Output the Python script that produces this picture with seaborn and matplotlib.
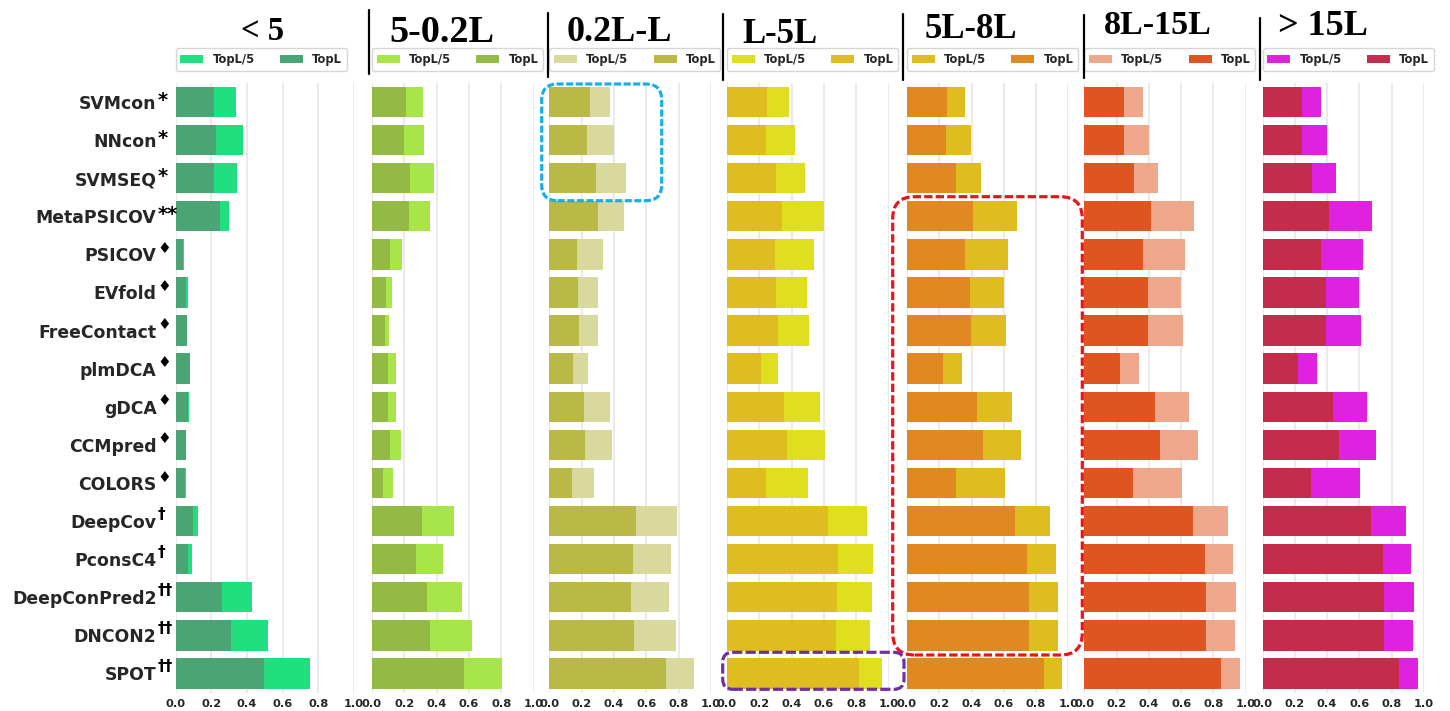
import numpy as np
import pandas as pd
import matplotlib
matplotlib.use("Agg")
import matplotlib.pyplot as plt
from matplotlib.patches import FancyBboxPatch
from matplotlib.lines import Line2D
import seaborn as sns

# ---------------------------------------------------------------- data
methods = ["SVMcon", "NNcon", "SVMSEQ", "MetaPSICOV", "PSICOV", "EVfold",
           "FreeContact", "plmDCA", "gDCA", "CCMpred", "COLORS", "DeepCov",
           "PconsC4", "DeepConPred2", "DNCON2", "SPOT"]
method_marks = ["*", "*", "*", "**", "♦", "♦", "♦", "♦", "♦", "♦", "♦",
                "†", "†", "††", "††", "††"]

ranges = ["< 5", "5-0.2L", "0.2L-L", "L-5L", "5L-8L", "8L-15L", "> 15L"]

topl5_lt5 = [0.338, 0.375, 0.343, 0.297, 0.044, 0.069, 0.062, 0.078, 0.076,
             0.058, 0.058, 0.123, 0.091, 0.426, 0.517, 0.754]
topl_lt5 = [0.216, 0.226, 0.213, 0.246, 0.043, 0.056, 0.062, 0.078, 0.071,
            0.058, 0.054, 0.099, 0.067, 0.259, 0.308, 0.496]

topl5_5_02L = [0.314, 0.322, 0.386, 0.359, 0.188, 0.124, 0.105, 0.147, 0.147,
               0.182, 0.128, 0.506, 0.440, 0.557, 0.617, 0.803]
topl_5_02L = [0.211, 0.200, 0.235, 0.227, 0.111, 0.085, 0.078, 0.101, 0.097,
              0.109, 0.070, 0.312, 0.275, 0.341, 0.359, 0.568]

topl5_02L_L = [0.375, 0.402, 0.476, 0.462, 0.330, 0.303, 0.303, 0.237, 0.375,
               0.386, 0.278, 0.790, 0.753, 0.740, 0.782, 0.895]
topl_02L_L = [0.252, 0.231, 0.289, 0.299, 0.173, 0.179, 0.184, 0.148, 0.215,
              0.221, 0.138, 0.534, 0.520, 0.505, 0.524, 0.724]

topl5_L_5L = [0.382, 0.419, 0.483, 0.601, 0.541, 0.495, 0.510, 0.318, 0.574,
              0.605, 0.500, 0.869, 0.904, 0.898, 0.885, 0.958]
topl_L_5L = [0.248, 0.241, 0.303, 0.341, 0.295, 0.305, 0.314, 0.209, 0.353,
             0.370, 0.243, 0.623, 0.687, 0.679, 0.675, 0.817]

topl5_5L_8L = [0.362, 0.399, 0.457, 0.681, 0.626, 0.600, 0.613, 0.339, 0.649,
               0.705, 0.605, 0.888, 0.922, 0.938, 0.934, 0.962]
topl_5L_8L = [0.245, 0.243, 0.306, 0.411, 0.362, 0.393, 0.395, 0.221, 0.435,
              0.472, 0.303, 0.671, 0.747, 0.754, 0.756, 0.847]

topl5_8L_15L = [0.362, 0.399, 0.457, 0.681, 0.626, 0.600, 0.613, 0.339, 0.649,
                0.705, 0.605, 0.888, 0.922, 0.938, 0.934, 0.962]
topl_8L_15L = [0.245, 0.243, 0.306, 0.411, 0.362, 0.393, 0.395, 0.221, 0.435,
               0.472, 0.303, 0.671, 0.747, 0.754, 0.756, 0.847]

topl5_gt15L = [0.362, 0.399, 0.457, 0.681, 0.626, 0.600, 0.613, 0.339, 0.649,
               0.705, 0.605, 0.888, 0.922, 0.938, 0.934, 0.962]
topl_gt15L = [0.245, 0.243, 0.306, 0.411, 0.362, 0.393, 0.395, 0.221, 0.435,
              0.472, 0.303, 0.671, 0.747, 0.754, 0.756, 0.847]

panel_topl5 = [topl5_lt5, topl5_5_02L, topl5_02L_L, topl5_L_5L,
               topl5_5L_8L, topl5_8L_15L, topl5_gt15L]
panel_topl = [topl_lt5, topl_5_02L, topl_02L_L, topl_L_5L,
              topl_5L_8L, topl_8L_15L, topl_gt15L]

# ---------------------------------------------------------------- styles
colors_topl5 = ["#20df7f", "#a7e549", "#d9d99d", "#dfdf20",
                "#dfbc20", "#eea78a", "#df22df"]
colors_topl = ["#4ba473", "#93ba45", "#bab946", "#dfbc20",
               "#df8920", "#df5420", "#c32d4b"]

# mark glyph -> (font size, vertical offset in points)
mark_style = {"*": (14, -3.0), "**": (14, -3.0), "♦": (11, 1.0),
              "†": (11, 1.5), "††": (11, 1.5)}

title_sizes = [23.5, 27.5, 26, 25, 25, 24.5, 26]
title_x_px = [262.7, 441.6, 619, 780, 971, 1157.5, 1323]
title_base_px = [39.5, 41.7, 41, 43, 37.5, 33.5, 35]

# axes extents in pixels (left, right); shared top / bottom
axes_lr_px = [(175.7, 354.0), (372.0, 533.5), (549.3, 711.0), (727.0, 888.5),
              (907.0, 1068.3), (1084.3, 1245.7), (1262.7, 1423.7)]
axes_top_px, axes_bot_px = 82.9, 692.5
separators_px = [(369, 10, 74), (548, 12.5, 77), (723, 14, 80),
                 (903, 14, 80), (1083.5, 15, 78), (1259.5, 18, 80)]

W, H = 1450, 711
sns.set_theme(style="whitegrid")
plt.rcParams["font.family"] = ["DejaVu Sans"]

fig = plt.figure(figsize=(W / 100, H / 100), dpi=100)

for i, rng in enumerate(ranges):
    l, r = axes_lr_px[i]
    ax = fig.add_axes([l / W, 1 - axes_bot_px / H, (r - l) / W,
                       (axes_bot_px - axes_top_px) / H])
    df = pd.DataFrame({"method": methods,
                       "TopL/5": panel_topl5[i],
                       "TopL": panel_topl[i]})
    sns.barplot(data=df, x="TopL/5", y="method", orient="h",
                color=colors_topl5[i], saturation=1, errorbar=None,
                label="TopL/5", ax=ax, linewidth=0)
    sns.barplot(data=df, x="TopL", y="method", orient="h",
                color=colors_topl[i], saturation=1, errorbar=None,
                label="TopL", ax=ax, linewidth=0)
    ax.set_xlim(0, 1)
    ax.set_xticks([0, 0.2, 0.4, 0.6, 0.8, 1.0])
    ax.set_xticklabels(["0.0", "0.2", "0.4", "0.6", "0.8", "1.0"],
                       fontsize=8.2, fontweight="bold", color="#262626")
    ax.set_xlabel("")
    ax.set_ylabel("")
    ax.grid(axis="y", visible=False)
    ax.grid(axis="x", color="#e4e4e4", linewidth=1.1)
    for sp in ax.spines.values():
        sp.set_visible(False)
    ax.tick_params(axis="both", length=0)
    ax.tick_params(axis="x", pad=4.5)
    if i == 0:
        for t in ax.get_yticklabels():
            t.set_fontsize(12.4)
            t.set_fontweight("bold")
            t.set_color("#262626")
        ax.tick_params(axis="y", pad=13.8)
        # method-class marks raised after each method name
        for row, mark in enumerate(method_marks):
            size, dy = mark_style[mark]
            ax.annotate(mark, xy=(0, row), xycoords=("axes fraction", "data"),
                        xytext=(-13.2, dy), textcoords="offset points",
                        ha="left", va="baseline", fontsize=size,
                        fontweight="bold", color="black")
    else:
        ax.tick_params(axis="y", labelleft=False)
    handles, labels = ax.get_legend_handles_labels()
    order = [labels.index("TopL/5"), labels.index("TopL")]
    ax.legend([handles[k] for k in order], [labels[k] for k in order],
              loc="lower left", bbox_to_anchor=(0.0, 1.02), borderaxespad=0,
              ncol=2, columnspacing=2.2, frameon=True,
              prop={"weight": "bold", "size": 8.3})

    fig.text(title_x_px[i] / W, 1 - title_base_px[i] / H, rng,
             ha="center", va="baseline", fontsize=title_sizes[i],
             fontweight="bold", family=["Liberation Serif", "DejaVu Serif"],
             color="black")

# vertical separators between the range headers
for x, y0, y1 in separators_px:
    fig.add_artist(Line2D([x / 100, x / 100], [(H - y0) / 100, (H - y1) / 100],
                          transform=fig.dpi_scale_trans, color="black",
                          linewidth=1.6))

# dashed highlight boxes
def dashed_box(x0, y0, x1, y1, color, radius, dashes):
    box = FancyBboxPatch((x0 / 100, (H - y1) / 100), (x1 - x0) / 100,
                         (y1 - y0) / 100,
                         boxstyle=f"round,pad=0,rounding_size={radius / 100}",
                         transform=fig.dpi_scale_trans, fill=False,
                         edgecolor=color, linewidth=2.3,
                         linestyle=(0, dashes), zorder=10)
    fig.add_artist(box)

dashed_box(541.7, 84, 661.7, 200.7, "#1aaee6", 16, (2.2, 0.8))
dashed_box(892.7, 196.7, 1082.3, 655, "#e8141c", 22, (2.6, 1.0))
dashed_box(722.7, 652.3, 904, 689.3, "#7030a0", 10, (3.2, 1.0))

fig.savefig("out.png", dpi=100)
